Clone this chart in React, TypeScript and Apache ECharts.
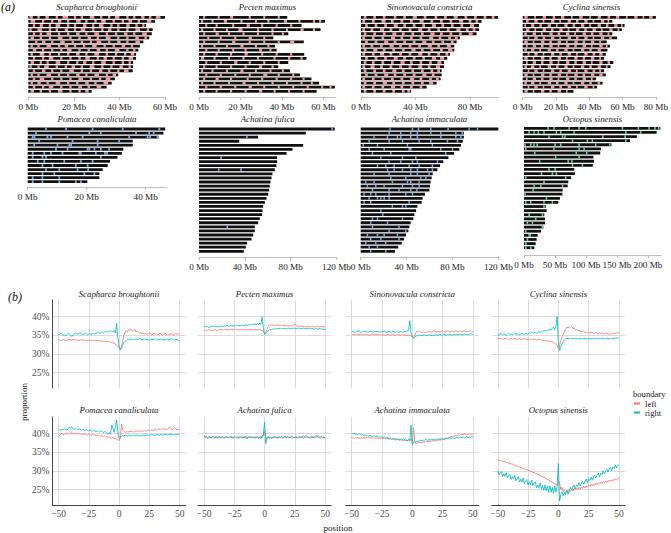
import React, { useEffect, useRef } from 'react';
import * as echarts from 'echarts';

// ================= (a) chromosome data (Mb) =================
const scaphLen = [60, 55.6, 51.7, 54.6, 54.2, 53.1, 50.5, 49, 48.3, 47.3, 47.3, 46, 46, 45.8, 39.5, 38, 36.6, 34.4, 27.8];
const pectenLen = [42.6, 60.8, 49.5, 58.7, 43.1, 35.9, 50.6, 36.7, 37.5, 50.8, 51.9, 43.1, 38.3, 43.9, 48.7, 54.3, 58, 65.6, 56.8];
const sinoLen = [100.7, 88.5, 86.6, 86.6, 84.8, 72.6, 70.2, 68.5, 68.5, 65.3, 63.3, 60.9, 60.9, 59.2, 59.2, 58.4, 55.5, 48.2, 36.7];
const cyclinaLen = [80, 53.8, 61.2, 59.6, 53.8, 56.7, 50.5, 52.4, 50.9, 49.9, 48.9, 54.4, 52.8, 48.9, 49.9, 44.1, 48, 44.7, 30.5];
const pomaceaLen = [46.6, 46, 44.3, 35.6, 35.6, 32.4, 31.9, 30.4, 27.9, 27.1, 25.4, 24.3, 24.3, 20.2];
const fulicaLen = [118.5, 93.2, 51.6, 35.1, 90.9, 81.6, 76.4, 68.2, 68.2, 67.6, 66.2, 64.1, 63.3, 62.4, 61.8, 61.2, 60.4, 58.9, 57.5, 56, 55.4, 55.1, 53.1, 51.6, 48.7, 48.7, 47.3, 45.8, 42, 40.9, 39.1];
const immacLen = [120, 90, 90, 89, 87.5, 86, 81.4, 76.5, 72, 69.2, 66.9, 62.8, 61.9, 61, 60.5, 59.9, 56.1, 54, 53.2, 49.4, 48.3, 46.8, 45.9, 43.6, 42.4, 41.6, 39.5, 37.8, 35.8, 32.8, 29.9];
const octoLen = [220, 214, 182, 171, 141, 124, 123, 112, 113, 111, 81, 82, 76, 71.5, 70.4, 62.4, 62.4, 58, 55.4, 35, 36.6, 32.8, 33.9, 33.9, 31.2, 27.4, 22, 20.4, 18.8, 16.7];

// highlighted intervals [start, end, start, end, ...] per chromosome (Mb)
const scaphSeg = [
  [0.5,2, 4,5, 7.5,9, 12,13, 15,17.5, 20,21, 23,24, 27,29, 31.5,32.5, 35,36, 38,40, 43,44, 46,47, 49.5,51, 53,54, 56,58],
  [1,3, 6,7, 10,11, 13,14.5, 17,18, 21,23, 25,26, 29,30, 32,34, 37,38, 41,42, 44,45.5, 48,49, 52,54],
  [2,3, 5,6.5, 9,10, 12,14, 17,18, 20,21, 24,25.5, 28,29, 31,33, 36,37, 39,40, 43,44.5, 47,48, 50,51],
  [0.5,1.5, 4,6, 9,10, 12,13, 16,17.5, 20,21, 23,25, 28,29, 32,33, 35,36.5, 39,40, 43,44, 47,49, 52,53],
  [2,3, 5,6, 8,10, 13,14, 17,18, 21,22.5, 25,26, 29,31, 34,35, 38,39, 42,43.5, 46,47, 50,52],
  [1,2.5, 5,6, 9,10, 13,15, 18,19, 22,23, 26,27.5, 30,31, 34,36, 39,40, 43,44, 47,48.5, 51,52],
  [3,4, 6,7.5, 10,11, 14,16, 19,20, 23,24, 27,28, 30,32, 35,36, 39,40.5, 43,44, 47,49],
  [1,2, 4,5, 8,10, 13,14, 16,17.5, 20,21, 24,25, 28,30, 33,34, 37,38, 41,42.5, 45,46],
  [2,3.5, 6,7, 10,11, 14,15, 17,19, 22,23, 26,27, 30,31.5, 34,35, 38,40, 43,44, 46,47],
  [1,2, 5,7, 9,10, 13,14, 17,18, 21,22.5, 25,26, 29,31, 34,35, 38,39, 42,43, 45,46.5],
  [2,3, 6,7, 9,11, 14,15, 18,19, 22,23, 25,27, 30,31, 33,34.5, 37,38, 41,42, 44,46],
  [1,2.5, 5,6, 8,9, 12,14, 17,18, 21,22, 24,25.5, 28,29, 32,34, 37,38, 41,42, 44,45],
  [0.5,1.5, 4,5, 7,9, 12,13, 16,17, 19,20.5, 23,24, 27,29, 32,33, 36,37, 40,41.5, 44,45],
  [2,3, 6,7.5, 10,11, 14,15, 18,20, 23,24, 27,28, 31,32.5, 35,36, 39,40, 42,44],
  [1,2, 4,5, 8,10, 13,14, 17,18, 21,22.5, 25,26, 29,31, 34,35, 37,38.5],
  [2,3, 5,7, 10,11, 14,15, 18,19, 22,24, 27,28, 31,32, 34,36],
  [1,2, 4,5.5, 8,9, 12,14, 17,18, 21,22, 25,26.5, 29,30, 33,35],
  [2,3, 6,7, 9,11, 14,15, 18,19, 22,23.5, 26,27, 30,32],
  [1,2.5, 5,6, 9,10, 13,15, 18,19, 22,23, 25,26.5],
];
const pectenSeg = [
  [2,3, 9,10, 15,16.5, 24,25, 31,32, 38,39],
  [1,2, 6,7, 12,13.5, 20,21, 27,28, 33,34, 41,42.5, 48,49, 55,56, 58,59],
  [3,4, 8,9, 16,17, 23,24.5, 30,31, 37,38, 44,45],
  [1,2, 7,8, 13,14, 19,21, 28,29, 35,36, 42,43, 49,50.5, 55,56],
  [2,3, 8,9.5, 14,15, 21,22, 28,29, 35,36, 40,41],
  [4,5, 10,11, 17,18, 24,25.5, 31,32],
  [2,3, 9,10, 16,17.5, 24,25, 31,32, 38,39, 44,46],
  [1,2, 7,8, 13,14, 20,21.5, 27,28, 33,34],
  [3,4, 9,10, 16,17, 22,23, 29,30.5, 34,35],
  [2,3, 8,9, 15,16, 22,23.5, 30,31, 37,38, 44,45],
  [1,2.5, 7,8, 14,15, 21,22, 28,29, 36,37, 43,44, 49,50],
  [3,4, 10,11, 17,18.5, 24,25, 31,32, 38,39],
  [2,3, 8,9, 15,16, 22,23, 29,30.5, 35,36],
  [1,2, 6,7, 13,14, 20,21.5, 27,28, 34,35, 40,41],
  [3,4, 10,11, 17,18, 24,25, 31,33, 38,39, 45,46],
  [2,3, 8,9.5, 15,16, 23,24, 30,31, 37,38, 44,45, 50,51],
  [1,2, 7,8, 14,15, 21,22.5, 28,29, 35,36, 42,43, 49,50, 54,55],
  [3,4, 10,11, 17,18, 24,25.5, 31,32, 38,39, 45,46, 52,53, 59,60, 63,64],
  [2,3, 8,9, 15,16, 22,23, 29,30.5, 36,37, 43,44, 50,51],
];
const sinoSeg = [
  [2,4, 9,11, 16,18, 24,26, 31,33, 38,41, 46,48, 54,56, 61,63, 68,71, 76,78, 83,85, 90,92, 96,98],
  [1,3, 8,10, 15,18, 22,24, 29,31, 36,38, 43,46, 51,53, 58,60, 65,67, 72,75, 79,81, 84,86],
  [3,5, 10,12, 17,19, 24,27, 31,33, 38,40, 45,47, 52,55, 59,61, 66,68, 73,75, 80,83],
  [1,3, 7,9, 14,17, 21,23, 28,30, 35,37, 42,45, 49,51, 56,58, 63,65, 70,73, 77,79, 82,84],
  [2,4, 9,11, 16,18, 23,26, 30,32, 37,39, 44,46, 51,54, 58,60, 65,67, 72,74, 79,82],
  [1,3, 8,10, 15,17, 22,25, 29,31, 36,38, 43,45, 50,53, 57,59, 64,66, 69,71],
  [3,5, 10,12, 17,20, 24,26, 31,33, 38,40, 45,48, 52,54, 59,61, 66,68],
  [1,3, 7,9, 14,16, 21,24, 28,30, 35,37, 42,44, 49,52, 56,58, 63,66],
  [2,4, 9,12, 16,18, 23,25, 30,32, 37,40, 44,46, 51,53, 58,60, 64,67],
  [1,3, 8,10, 14,17, 21,23, 28,30, 35,37, 42,45, 49,51, 56,58, 62,64],
  [3,5, 10,12, 17,19, 24,27, 31,33, 38,40, 45,47, 52,55, 58,61],
  [2,4, 8,10, 15,17, 22,24, 29,32, 36,38, 43,45, 50,52, 56,59],
  [1,3, 7,10, 14,16, 21,23, 28,30, 35,37, 42,45, 49,51, 55,58],
  [2,4, 9,11, 16,18, 23,26, 30,32, 37,39, 44,46, 51,53, 56,58],
  [3,5, 10,12, 17,20, 24,26, 31,33, 38,40, 45,48, 52,54],
  [1,3, 8,10, 15,17, 22,24, 29,31, 36,39, 43,45, 50,52, 55,57],
  [2,4, 9,11, 16,19, 23,25, 30,32, 37,39, 44,46, 50,53],
  [1,3, 8,10, 15,17, 22,25, 29,31, 36,38, 43,45],
  [2,4, 9,11, 16,18, 23,25, 30,32, 34,36],
];
const cyclinaSeg = [
  [1,3, 7,8, 12,14, 18,19.5, 23,25, 29,30, 34,36, 40,41, 45,47, 51,52.5, 56,58, 62,63, 67,69, 72,73, 76,78],
  [2,3.5, 7,9, 12,13, 17,19, 22,23, 27,29, 32,33.5, 37,39, 42,43, 47,49, 51,52],
  [1,2, 5,7, 10,11.5, 15,17, 20,21, 25,27, 30,31.5, 35,37, 40,41, 45,47, 50,51.5, 55,57, 59,60],
  [2,4, 7,8, 12,14, 17,18.5, 22,24, 27,28, 32,34, 37,38.5, 42,44, 47,48, 52,54, 57,58],
  [1,2.5, 6,8, 11,12, 16,18, 21,22.5, 26,28, 31,32, 36,38, 41,42.5, 46,48, 51,52],
  [3,4, 7,9, 12,13.5, 17,19, 22,23, 27,29, 32,33.5, 37,39, 42,43, 47,49, 52,53.5],
  [1,3, 6,7, 11,13, 16,17.5, 21,23, 26,27, 31,33, 36,37.5, 41,43, 46,47],
  [2,3, 6,8, 11,12.5, 16,18, 21,22, 26,28, 31,32.5, 36,38, 41,42, 46,48, 50,51],
  [1,2.5, 5,7, 10,11, 15,17, 20,21.5, 25,27, 30,31, 35,37, 40,41.5, 45,47],
  [3,4, 7,9, 12,13, 17,19, 22,23.5, 27,29, 32,33, 37,39, 42,43.5, 46,48],
  [1,3, 6,7, 11,13, 16,17.5, 21,23, 26,27, 31,33, 36,37.5, 41,43, 46,47],
  [2,3, 6,8, 11,12.5, 16,18, 21,22, 26,28, 31,32.5, 36,38, 41,42, 46,48, 51,52.5],
  [1,2.5, 5,7, 10,11, 15,17, 20,21.5, 25,27, 30,31, 35,37, 40,41.5, 45,47, 50,51],
  [3,4, 7,9, 12,13, 17,19, 22,23.5, 27,29, 32,33, 37,39, 42,43.5, 46,47],
  [1,3, 6,7, 11,13, 16,17.5, 21,23, 26,27, 31,33, 36,37.5, 41,43, 46,48],
  [2,3, 6,8, 11,12.5, 16,18, 21,22, 26,28, 31,32.5, 36,38, 41,42],
  [1,2.5, 5,7, 10,11, 15,17, 20,21.5, 25,27, 30,31, 35,37, 40,41.5, 45,46.5],
  [3,4, 7,9, 12,13, 17,19, 22,23.5, 27,29, 32,33, 37,39, 42,43],
  [1,3, 6,7, 11,13, 16,17.5, 21,23, 26,27],
];

// single-site marks (start positions, Mb) per chromosome
const pomaceaMarks = [
  [5.9, 12.7, 21.7, 31.9, 44.3],
  [2.5, 20.6, 24.5, 36.4, 40.9, 42.4],
  [1.4, 2, 6.4, 7.6, 13.2, 18.3, 34.1, 40.3, 41.2, 43.7],
  [3.6, 14.9, 23.4, 30.7],
  [1.9, 9.8, 13.8, 14.4, 23.4],
  [9.3, 13.2, 20, 20.6, 22.3, 24.5, 27.3],
  [1.4, 5.3, 7.6, 11.5, 17.2, 17.7, 22.8, 25.9, 26.6],
  [1.4, 4.7, 5.9, 24.5],
  [3.1, 5.3, 12.1, 17.7, 21.7],
  [4.7, 8.1, 16, 20],
  [5.9, 10.4, 16.6, 20.2],
  [4.7, 8.7, 18.9, 22.3],
  [1.4, 4.7, 10.4],
  [1.4, 4.7, 10.4, 16, 17.7],
];
const fulicaMarks = [
  [115.5], [], [41.2], [], [], [], [], [18.5], [], [], [16.5, 36], [], [], [], [], [],
  [], [], [], [], [], [], [], [], [24], [], [], [], [], [], [],
];
const immacMarks = [
  [25, 44.5, 49.7, 60.5, 75.6, 93.9, 101.2],
  [24.1, 34.3, 43, 48.8, 60.5, 69.2, 82.3, 88],
  [11, 22.7, 31.4, 34.3, 43, 48.8, 69.2, 82.3, 86.6],
  [6.7, 24.1, 35.8, 50.3, 60.5, 75, 83.7],
  [1.5, 14, 40.1, 61.9],
  [6.7, 19.8, 41.6, 43, 69.2, 79.4],
  [9.6, 25.6, 73.5],
  [16.9, 35.8, 47.4],
  [24.1, 34.3, 44.5, 48.8, 66.3],
  [14, 21.2, 28.5, 41.6, 50.3, 61.9],
  [22.7, 28.5, 35.8, 43, 48.8, 57.6, 61.9],
  [11, 24.1, 43, 48.8, 59],
  [25.6, 38.7, 51.7, 56.1],
  [3.8, 11, 27, 40.1, 43, 50.3],
  [5.2, 12.5, 19.8, 35.8, 44.5, 50.3],
  [9.6, 24.1, 32.8, 43, 48.3],
  [2.3, 8.1, 12.5, 24.1, 38.7, 44.5],
  [6.7, 14, 16.9, 19.8, 24.1],
  [2.3, 8.1, 41.6],
  [27, 35.8, 38.7],
  [16.9],
  [18.6],
  [9.6, 14, 35.8],
  [8.1, 22.7],
  [9.6, 32.8],
  [24.1, 38.7],
  [5.2, 14, 19.8, 31.4],
  [8.1, 16.9, 32.8],
  [3.8, 12.5, 21.2],
  [6.7, 14],
  [8.1, 21.2],
];
const octoMarks = [
  [37.6, 47.3, 71.5, 87.6, 98.4, 157.5, 183.3, 200.5, 210, 216],
  [7, 15, 22, 31, 51, 58, 79.6, 163, 187],
  [39, 61, 65, 126, 162],
  [77, 101, 109, 163],
  [0.5, 9.7, 15, 20, 49, 58, 87.6, 114.5, 137],
  [1.6, 47, 87.6, 95.7],
  [16, 83, 100],
  [50, 87.6],
  [24, 70, 76],
  [77, 93],
  [39, 49],
  [27, 44.6, 51],
  [1.6, 66],
  [31],
  [15, 26, 61],
  [13.4],
  [0.5, 61],
  [35],
  [1.6, 9.7, 31, 44.6],
  [31],
  [],
  [7, 28.5],
  [17.7],
  [4.3, 12.4],
  [28.5],
  [1.6],
  [7, 9],
  [4.3],
  [1.6],
  [1.6, 9.7],
];
const pomaceaMarkLen = 0.6;
const fulicaMarkLen = 1.4;
const immacMarkLen = 1.3;
const octoMarkLen = 2.5;

// ================= (b) boundary proportions (%) =================
const aTicks = { scaph: [0, 20, 40, 60], pecten: [0, 20, 40, 60], sino: [0, 40, 80], cyclina: [0, 20, 40, 60, 80], pomacea: [0, 20, 40], fulica: [0, 40, 80, 120], immac: [0, 40, 80, 120], octo: [0, 50, 100, 150, 200] };
const posTicks = [-50, -25, 0, 25, 50];
const propTicks = [25, 30, 35, 40];

const scaphLeft = [
  33.8,33.7,33.6,33.7,33.8,33.7,33.6,33.7,33.8,33.9,
  33.8,33.7,33.8,33.9,33.8,33.7,33.7,33.6,33.7,33.8,
  33.7,33.6,33.7,33.6,33.5,33.6,33.7,33.6,33.5,33.6,
  33.6,33.5,33.6,33.5,33.4,33.5,33.5,33.4,33.3,33.4,
  33.3,33.2,33.3,33.1,33.0,33.0,32.8,32.6,32.4,32.0,
  31.6,31.3,31.9,33.4,35.0,35.8,36.2,36.0,36.5,36.3,
  36.6,36.1,36.4,36.6,35.9,36.2,35.8,35.5,35.7,35.4,
  35.6,35.3,35.5,35.2,35.4,35.7,35.3,35.1,35.4,35.6,
  35.2,35.4,35.1,35.3,35.5,35.2,35.0,35.3,35.6,35.2,
  35.3,35.1,35.4,35.2,35.5,35.0,35.3,35.6,35.2,35.4,
  35.2];
const scaphRight = [
  35.1,35.3,35.6,35.2,35.0,35.1,34.9,35.2,35.5,35.3,
  35.0,34.7,34.9,35.3,35.6,35.4,35.2,35.5,35.7,35.4,
  35.2,35.3,35.6,35.4,35.1,35.3,35.5,35.2,35.4,35.6,
  35.3,35.5,35.8,35.6,35.4,35.7,35.9,35.6,35.8,36.0,
  35.8,36.1,35.9,36.2,36.0,35.9,36.3,35.6,38.2,34.5,
  32.2,31.0,31.4,32.3,33.0,33.4,33.6,33.9,33.8,34.0,
  33.9,34.0,33.8,33.9,34.0,33.8,33.9,34.1,33.9,33.8,
  33.9,34.0,33.8,33.9,33.7,33.8,34.0,33.9,33.8,33.9,
  34.0,33.8,33.7,33.9,34.0,33.8,33.9,33.7,33.8,33.9,
  34.0,33.8,33.9,34.1,33.9,33.8,33.7,33.9,33.8,33.6,
  33.5];
const pectenLeft = [
  36.3,36.4,36.2,36.3,36.5,36.4,36.3,36.2,36.4,36.5,
  36.4,36.3,36.5,36.4,36.6,36.5,36.4,36.5,36.6,36.5,
  36.4,36.5,36.6,36.5,36.4,36.6,36.5,36.6,36.5,36.4,
  36.5,36.6,36.5,36.4,36.6,36.5,36.4,36.5,36.6,36.5,
  36.4,36.5,36.6,36.5,36.4,36.5,36.6,36.4,36.3,36.0,
  35.5,35.7,36.6,37.5,37.8,37.7,37.6,37.8,37.7,37.6,
  37.7,37.8,37.6,37.7,37.5,37.6,37.7,37.5,37.6,37.4,
  37.5,37.6,37.4,37.5,37.7,38.0,37.6,37.4,37.5,37.3,
  37.4,37.5,37.3,37.4,37.2,37.3,37.5,37.3,37.2,37.4,
  37.3,37.2,37.4,37.3,37.5,37.2,37.3,37.4,37.2,37.3,
  37.4];
const pectenRight = [
  37.3,37.2,37.4,37.3,37.1,37.2,37.4,37.3,37.5,37.4,
  37.3,37.4,37.2,37.3,37.5,37.4,37.3,37.5,37.4,37.6,
  37.5,37.4,37.6,37.5,37.4,37.6,37.5,37.7,37.6,37.5,
  37.6,37.7,37.5,37.6,37.8,37.7,37.6,37.8,37.7,37.9,
  37.8,37.9,38.0,37.8,38.1,37.9,38.2,38.0,39.9,36.8,
  35.2,35.4,35.9,36.2,36.4,36.5,36.6,36.7,36.6,36.8,
  36.7,36.8,36.7,36.9,36.8,36.7,36.9,36.8,36.7,36.8,
  36.9,36.8,36.7,36.8,36.9,36.8,36.7,36.8,36.9,36.7,
  36.8,36.7,36.9,36.8,36.7,36.8,36.9,36.7,36.8,36.7,
  36.8,36.6,36.7,36.8,36.6,36.7,36.8,36.6,36.7,36.6,
  36.5];
const sinoLeft = [
  35.3,35.2,35.1,35.2,35.3,35.2,35.1,35.2,35.3,35.2,
  35.1,35.2,35.3,35.2,35.1,35.0,35.2,35.3,35.2,35.1,
  35.2,35.1,35.2,35.3,35.2,35.1,35.2,35.1,35.0,35.1,
  35.2,35.1,35.0,35.1,35.2,35.1,35.0,35.1,35.2,35.1,
  35.0,35.1,35.2,35.0,35.1,35.0,34.9,35.1,35.0,34.8,
  34.6,34.3,34.9,35.8,36.1,35.9,36.0,35.8,35.7,35.9,
  35.8,35.7,35.9,35.8,36.0,35.9,35.8,36.1,36.2,36.0,
  35.9,36.1,36.0,35.8,36.0,36.2,36.1,35.9,36.0,36.1,
  36.0,35.8,36.0,36.1,35.9,36.0,36.2,36.0,35.9,36.1,
  36.0,35.9,36.1,36.2,36.0,35.9,36.1,36.0,36.2,36.0,
  35.9];
const sinoRight = [
  35.9,36.0,35.8,35.9,36.1,36.0,36.2,35.9,35.8,36.0,
  36.1,35.9,36.0,35.8,35.9,36.1,36.0,35.9,35.8,36.0,
  35.9,36.1,36.0,35.8,35.9,36.0,35.9,36.1,35.9,35.8,
  35.9,36.0,35.8,35.9,36.0,35.9,35.8,36.0,35.9,35.8,
  35.9,36.0,35.8,35.9,36.0,35.9,36.1,36.2,38.9,35.6,
  34.6,34.2,34.5,34.8,34.9,35.0,35.1,34.9,35.0,35.0,
  35.1,35.0,34.9,35.0,35.1,35.0,34.9,35.0,35.1,35.0,
  35.1,35.0,35.1,35.2,35.0,35.1,35.2,35.1,35.0,35.2,
  35.1,35.2,35.1,35.0,35.2,35.1,35.2,35.3,35.1,35.2,
  35.3,35.2,35.1,35.3,35.2,35.3,35.2,35.3,35.4,35.3,
  35.2];
const cyclinaLeft = [
  34.1,34.0,34.2,34.1,33.9,34.0,34.1,34.2,34.0,33.9,
  34.0,34.1,34.0,33.9,34.1,34.0,33.8,34.0,34.1,33.9,
  34.0,33.9,34.1,34.0,33.8,33.9,34.0,33.8,33.9,34.0,
  33.8,33.9,33.7,33.8,33.9,33.7,33.8,33.6,33.7,33.5,
  33.6,33.4,33.5,33.3,33.4,33.2,33.0,32.8,32.6,32.3,
  31.5,32.2,33.5,34.6,35.3,36.0,36.6,37.2,36.9,37.4,
  37.1,37.3,36.8,37.0,36.5,36.6,36.2,36.4,36.0,36.1,
  35.9,36.0,35.7,35.8,35.6,35.9,35.5,35.7,35.8,35.4,
  35.6,35.8,35.5,35.3,35.6,35.4,35.7,35.5,35.3,35.6,
  35.4,35.5,35.2,35.4,35.6,35.3,35.5,35.4,35.7,35.5,
  35.8];
const cyclinaRight = [
  35.2,35.0,35.4,35.3,35.1,35.4,35.2,35.0,35.3,35.5,
  35.2,35.4,35.1,35.3,35.6,35.2,35.4,35.3,35.1,35.4,
  35.5,35.3,35.2,35.6,35.4,35.3,35.7,35.5,35.8,35.6,
  35.7,35.9,35.6,35.8,36.0,35.8,36.1,35.9,36.2,36.3,
  36.1,36.4,36.2,36.6,36.4,36.9,37.2,36.5,37.3,40.0,
  33.5,30.9,31.8,32.6,33.3,33.8,34.0,34.2,34.1,34.0,
  34.1,34.2,34.0,34.1,34.2,34.1,34.0,34.1,34.2,34.1,
  34.0,34.1,34.2,34.0,34.1,34.2,34.1,34.0,34.1,34.2,
  34.1,34.0,34.2,34.1,34.0,34.1,34.2,34.1,34.0,34.1,
  34.2,34.1,34.0,34.1,34.2,34.0,34.1,34.2,34.3,34.2,
  34.3];
const pomaceaLeft = [
  39.8,39.5,39.9,40.1,39.7,40.0,39.8,40.2,40.0,39.8,
  40.1,40.3,39.9,40.2,40.0,39.8,40.1,39.9,40.0,39.7,
  39.9,39.7,40.0,39.8,39.6,39.9,39.7,39.5,39.8,39.6,
  39.7,39.5,39.6,39.4,39.6,39.3,39.5,39.2,39.4,39.1,
  39.2,39.0,39.1,38.9,38.8,39.0,38.7,38.6,38.5,38.3,
  38.2,38.6,42.5,41.0,40.6,40.3,40.5,40.7,40.4,40.6,
  40.5,40.7,40.4,40.6,40.8,40.5,40.7,40.6,40.8,40.5,
  40.7,40.9,40.6,40.8,41.0,40.7,40.9,41.1,40.8,41.0,
  41.2,40.9,41.1,41.3,41.0,41.2,41.4,41.1,41.3,41.0,
  41.2,41.5,41.8,41.3,41.1,41.4,41.6,41.2,40.9,41.3,
  40.9];
const pomaceaRight = [
  40.9,41.1,40.8,41.2,41.0,41.3,41.1,40.9,41.4,41.7,
  41.5,41.8,41.3,41.1,41.4,41.2,41.0,41.3,41.1,40.9,
  41.2,41.0,40.8,41.1,40.9,40.7,41.0,40.8,40.6,40.9,
  40.7,40.5,40.8,40.6,40.4,40.7,40.5,40.3,40.6,40.4,
  40.1,39.8,40.2,39.9,42.3,41.5,40.3,41.8,43.6,40.6,
  38.7,38.9,39.3,39.5,39.4,39.6,39.5,39.4,39.6,39.5,
  39.4,39.6,39.5,39.3,39.5,39.6,39.4,39.5,39.3,39.5,
  39.6,39.4,39.5,39.7,39.5,39.6,39.8,39.6,39.7,39.5,
  39.6,39.8,39.7,39.5,39.7,39.8,39.6,39.7,39.9,39.8,
  39.6,39.8,39.7,39.9,39.8,39.6,39.8,39.9,39.7,39.8,
  39.6];
const fulicaLeft = [
  39.2,38.9,39.1,38.8,39.0,39.3,38.9,39.1,38.7,39.0,
  39.2,38.8,39.0,39.3,38.9,39.1,38.8,39.0,39.2,38.9,
  39.1,38.8,39.0,39.2,38.7,39.0,39.1,38.9,39.2,38.8,
  39.0,39.3,38.8,39.1,38.9,39.2,38.7,39.0,39.3,38.9,
  39.1,38.8,39.2,38.9,39.0,38.7,39.1,39.3,38.8,39.4,
  40.6,39.2,38.6,39.0,38.8,39.1,38.7,39.0,39.2,38.8,
  39.0,38.7,39.1,38.9,39.2,38.8,39.0,39.3,38.9,39.1,
  38.8,39.2,39.0,38.7,39.1,38.9,39.2,38.8,39.0,39.3,
  38.9,39.1,39.4,39.0,39.6,39.2,38.9,39.1,38.8,39.0,
  39.2,38.9,39.1,39.4,39.0,38.8,39.1,39.3,38.9,39.1,
  38.9];
const fulicaRight = [
  39.4,39.1,39.3,38.9,39.2,39.0,38.8,39.1,39.3,38.9,
  39.1,38.8,39.2,39.0,38.9,39.3,39.0,38.8,39.1,39.2,
  38.9,39.1,39.3,38.8,39.0,39.2,38.9,39.1,38.7,39.0,
  39.2,38.8,39.1,38.9,39.3,38.6,39.0,39.2,38.8,39.1,
  38.9,39.2,38.7,39.0,39.3,38.8,39.1,38.6,39.4,39.6,
  43.1,37.3,38.9,39.2,38.8,39.0,38.7,39.1,38.9,39.2,
  38.8,39.0,39.2,38.9,39.1,38.8,39.0,39.3,38.9,39.1,
  39.0,38.8,39.1,39.3,38.9,39.0,39.2,38.8,39.1,38.9,
  39.2,39.0,38.8,39.1,38.9,39.2,39.0,38.9,39.1,39.3,
  38.9,39.1,39.3,39.0,39.5,39.2,38.9,39.1,38.8,39.0,
  38.8];
const immacLeft = [
  38.8,38.9,38.7,38.8,39.0,38.9,38.8,38.7,38.9,38.8,
  38.9,38.8,38.9,39.0,38.8,38.9,38.7,38.8,38.9,38.7,
  38.8,38.9,38.7,38.8,38.6,38.8,38.7,38.6,38.7,38.6,
  38.7,38.5,38.6,38.4,38.6,38.5,38.3,38.5,38.4,38.3,
  38.4,38.2,38.3,38.1,38.3,38.2,38.0,38.2,38.1,38.6,
  37.8,41.6,38.2,37.3,37.5,37.6,37.5,37.7,37.6,37.8,
  37.7,37.8,37.9,37.8,38.0,37.9,38.0,38.1,38.0,38.1,
  38.1,38.2,38.3,38.2,38.4,38.5,38.4,38.6,38.7,38.8,
  38.9,39.0,39.2,39.1,39.3,39.4,39.5,39.6,39.7,39.6,
  39.8,39.7,39.8,39.9,39.8,39.7,39.9,39.8,39.7,39.8,
  39.8];
const immacRight = [
  40.1,39.9,40.2,39.8,39.9,39.7,40.0,39.8,39.6,39.7,
  39.5,39.7,39.4,39.6,39.3,39.5,39.4,39.2,39.4,39.3,
  39.2,39.4,39.1,39.3,39.0,39.2,38.9,39.1,38.8,39.0,
  38.8,38.6,38.9,38.5,38.7,38.4,38.8,38.3,38.6,38.5,
  38.2,38.6,38.3,38.7,38.1,38.4,38.0,38.6,38.2,42.3,
  36.9,37.8,37.6,37.9,38.0,37.9,38.1,38.2,38.0,38.3,
  38.2,38.4,38.3,38.2,38.4,38.3,38.5,38.4,38.3,38.5,
  38.4,38.6,38.5,38.4,38.6,38.7,38.5,38.6,38.8,38.7,
  38.6,38.8,38.7,38.9,38.8,38.7,38.9,39.0,38.8,38.9,
  39.0,38.9,39.1,38.8,39.0,39.2,38.9,39.1,39.0,39.2,
  39.1];
const octoLeft = [
  33.0,32.8,32.9,32.6,32.7,32.4,32.5,32.2,32.3,32.0,
  32.1,31.8,31.9,31.5,31.6,31.2,31.4,31.0,31.1,30.8,
  30.9,30.5,30.6,30.3,30.4,30.0,30.2,29.8,29.9,29.5,
  29.6,29.2,29.3,28.9,29.0,28.6,28.7,28.3,28.4,28.0,
  28.0,27.6,27.7,27.2,27.3,26.8,26.9,26.4,26.5,26.0,
  27.4,26.8,25.0,25.6,24.4,24.9,24.2,24.8,24.3,25.0,
  24.5,25.1,24.6,25.3,24.8,25.4,24.9,25.6,25.1,25.7,
  25.3,25.9,25.4,26.0,25.6,26.2,25.8,26.4,26.0,26.5,
  26.1,26.7,26.3,26.8,26.5,27.0,26.6,27.1,26.8,27.3,
  26.9,27.4,27.1,27.6,27.2,27.7,27.4,27.9,27.5,28.0,
  27.9];
const octoRight = [
  30.0,28.9,29.3,29.8,28.4,29.2,28.5,29.5,28.1,28.7,
  29.1,27.7,28.4,27.8,28.8,27.4,27.9,28.4,27.0,27.8,
  27.0,28.1,26.6,27.3,27.7,26.2,27.1,26.3,27.5,26.0,
  26.7,27.1,25.5,26.2,25.5,26.8,25.2,26.1,24.8,26.2,
  24.7,25.8,24.3,26.0,24.2,25.6,24.0,26.0,24.3,25.8,
  32.0,21.9,23.6,24.4,23.3,24.2,23.6,24.8,23.8,24.5,
  25.6,24.9,25.6,26.2,25.2,26.2,25.8,26.8,26.0,26.7,
  27.2,26.4,27.2,27.8,26.9,27.9,27.4,28.4,27.5,28.4,
  28.8,28.1,28.9,29.4,28.4,29.4,29.0,30.0,29.2,29.9,
  30.4,29.7,30.5,31.0,30.0,31.0,30.6,31.6,30.8,31.5,
  31.6];

// ================= styles & layout =================
const SERIF = '"Liberation Serif", "DejaVu Serif", serif';
const BLACK = '#111111';
const PINK = '#f39e9e';
const BLUE = '#7ea8ec';
const GREEN = '#68d291';
const RED = '#F8766D';
const CYAN = '#00BFC4';
const GRID_C = '#dcdcdc';
const BAR_H = 2.8;

type APanel = {
  title: string; lens: number[]; pairs?: number[][]; marks?: number[][]; markLen?: number;
  color: string; ticks: number[]; left: number; width: number; max: number; y0: number; y1: number; axisY: number;
};

const aPanels: APanel[] = [
  { title: 'Scapharca broughtonii', lens: scaphLen, pairs: scaphSeg, color: PINK, ticks: aTicks.scaph, left: 28.3, width: 136.7, max: 60, y0: 17.3, y1: 91.3, axisY: 97 },
  { title: 'Pecten maximus', lens: pectenLen, pairs: pectenSeg, color: PINK, ticks: aTicks.pecten, left: 199, width: 136.7, max: 66, y0: 17.3, y1: 91.3, axisY: 97 },
  { title: 'Sinonovacula constricta', lens: sinoLen, pairs: sinoSeg, color: PINK, ticks: aTicks.sino, left: 361, width: 137.6, max: 101, y0: 17.3, y1: 91.3, axisY: 97 },
  { title: 'Cyclina sinensis', lens: cyclinaLen, pairs: cyclinaSeg, color: PINK, ticks: aTicks.cyclina, left: 522.7, width: 137.3, max: 80, y0: 17.3, y1: 91.3, axisY: 97 },
  { title: 'Pomacea canaliculata', lens: pomaceaLen, marks: pomaceaMarks, markLen: pomaceaMarkLen, color: BLUE, ticks: aTicks.pomacea, left: 27.7, width: 138.7, max: 47, y0: 129, y1: 181.7, axisY: 187 },
  { title: 'Achatina fulica', lens: fulicaLen, marks: fulicaMarks, markLen: fulicaMarkLen, color: BLUE, ticks: aTicks.fulica, left: 199, width: 137.5, max: 120, y0: 129, y1: 251.3, axisY: 257 },
  { title: 'Achatina immaculata', lens: immacLen, marks: immacMarks, markLen: immacMarkLen, color: BLUE, ticks: aTicks.immac, left: 360.7, width: 137.6, max: 120, y0: 129, y1: 251.3, axisY: 257 },
  { title: 'Octopus sinensis', lens: octoLen, marks: octoMarks, markLen: octoMarkLen, color: GREEN, ticks: aTicks.octo, left: 524, width: 137, max: 221, y0: 128.3, y1: 247.7, axisY: 255 },
];
const aTitleY = [7, 119];

const bTitles = ['Scapharca broughtonii', 'Pecten maximus', 'Sinonovacula constricta', 'Cyclina sinensis', 'Pomacea canaliculata', 'Achatina fulica', 'Achatina immaculata', 'Octopus sinensis'];
const bLeftSeries = [scaphLeft, pectenLeft, sinoLeft, cyclinaLeft, pomaceaLeft, fulicaLeft, immacLeft, octoLeft];
const bRightSeries = [scaphRight, pectenRight, sinoRight, cyclinaRight, pomaceaRight, fulicaRight, immacRight, octoRight];
const bColLeft = [52.4, 197.9, 345.6, 491.7];
const bWidth = 133.3;
const bRowTop = [300, 417];
const bHeight = 88;
const bTitleY = [294, 410];
const positions = bLeftSeries[0].map((_, i) => i - 50);

function rectItem(color: string) {
  return (params: any, api: any) => {
    const c = api.value(0);
    const s = api.value(1);
    const e = api.value(2);
    const a = api.coord([s, c]);
    const b = api.coord([e, c]);
    return {
      type: 'rect',
      shape: { x: a[0], y: a[1] - BAR_H / 2, width: Math.max(b[0] - a[0], 0.9), height: BAR_H },
      style: { fill: color },
    };
  };
}

function buildOption() {
  const grid: any[] = [];
  const xAxis: any[] = [];
  const yAxis: any[] = [];
  const series: any[] = [];
  const graphic: any[] = [];

  // ---------- (a) ----------
  aPanels.forEach((p, k) => {
    const n = p.lens.length;
    const pitch = (p.y1 - p.y0) / (n - 1);
    const top = p.y0 - pitch;
    grid.push({ left: p.left, top, width: p.width, height: p.axisY - top });
    xAxis.push({
      gridIndex: k, type: 'value', min: 0, max: p.max,
      axisLine: { show: true, onZero: false, lineStyle: { color: '#bdbdbd', width: 1 } },
      axisTick: { show: true, length: 3, customValues: p.ticks, lineStyle: { color: '#bdbdbd' } },
      axisLabel: { customValues: p.ticks, formatter: (v: number) => `${v} Mb`, fontSize: 9.2, fontFamily: SERIF, color: '#222', margin: 5 },
      splitLine: { show: false },
    });
    yAxis.push({ gridIndex: k, type: 'value', inverse: true, min: -1, max: n - 1 + (p.axisY - p.y1) / pitch, show: false });
    series.push({
      type: 'custom', xAxisIndex: k, yAxisIndex: k, silent: true,
      data: p.lens.map((len, i) => [i, 0, len]),
      encode: { x: [1, 2], y: 0 },
      renderItem: rectItem(BLACK),
    });
    const segs: number[][] = [];
    if (p.pairs) {
      p.pairs.forEach((arr, i) => {
        for (let j = 0; j + 1 < arr.length; j += 2) segs.push([i, arr[j], arr[j + 1]]);
      });
    }
    if (p.marks) {
      p.marks.forEach((arr, i) => arr.forEach((s) => segs.push([i, s, Math.min(s + (p.markLen || 1), p.lens[i])])));
    }
    series.push({
      type: 'custom', xAxisIndex: k, yAxisIndex: k, silent: true,
      data: segs, encode: { x: [1, 2], y: 0 },
      renderItem: rectItem(p.color),
    });
    graphic.push({
      type: 'text', x: p.left + p.width / 2, y: aTitleY[k < 4 ? 0 : 1],
      style: { text: p.title, fontSize: 8.8, fontStyle: 'italic', fontFamily: SERIF, fill: '#1a1a1a', align: 'center', verticalAlign: 'middle' },
    });
  });

  // ---------- (b) ----------
  bTitles.forEach((t, k) => {
    const gi = 8 + k;
    const row = k < 4 ? 0 : 1;
    const col = k % 4;
    grid.push({ left: bColLeft[col], top: bRowTop[row], width: bWidth, height: bHeight });
    xAxis.push({
      gridIndex: gi, type: 'value', min: -55, max: 55,
      axisLine: { show: row === 1, onZero: false, lineStyle: { color: '#444', width: 1 } },
      axisTick: { show: false, customValues: posTicks },
      axisLabel: { show: row === 1, customValues: posTicks, formatter: (v: number) => (v < 0 ? '\u2212' + Math.abs(v) : String(v)), fontSize: 9.5, fontFamily: SERIF, color: '#4d4d4d', margin: 4 },
      splitLine: { show: true, lineStyle: { color: GRID_C, width: 1 } },
    });
    yAxis.push({
      gridIndex: gi, type: 'value', min: 20.85, max: 44.45,
      axisLine: { show: col === 0, onZero: false, lineStyle: { color: '#444', width: 1 } },
      axisTick: { show: false, customValues: propTicks },
      axisLabel: { show: col === 0, customValues: propTicks, formatter: (v: number) => `${v}%`, fontSize: 9.5, fontFamily: SERIF, color: '#4d4d4d', margin: 3 },
      splitLine: { show: true, lineStyle: { color: GRID_C, width: 1 } },
    });
    series.push({
      name: 'left', type: 'line', xAxisIndex: gi, yAxisIndex: gi, showSymbol: false, symbol: 'none', silent: true,
      color: RED, lineStyle: { color: RED, width: 0.85 },
      data: positions.map((x, i) => [x, bLeftSeries[k][i]]),
    });
    series.push({
      name: 'right', type: 'line', xAxisIndex: gi, yAxisIndex: gi, showSymbol: false, symbol: 'none', silent: true,
      color: CYAN, lineStyle: { color: CYAN, width: 0.85 },
      data: positions.map((x, i) => [x, bRightSeries[k][i]]),
    });
    graphic.push({
      type: 'text', x: bColLeft[col] + bWidth / 2, y: bTitleY[row],
      style: { text: t, fontSize: 8.8, fontStyle: 'italic', fontFamily: SERIF, fill: '#1a1a1a', align: 'center', verticalAlign: 'middle' },
    });
  });

  graphic.push(
    { type: 'text', x: 1, y: 7, style: { text: '(a)', fontSize: 12, fontStyle: 'italic', fontFamily: SERIF, fill: '#111', align: 'left', verticalAlign: 'middle' } },
    { type: 'text', x: 8, y: 297, style: { text: '(b)', fontSize: 12, fontStyle: 'italic', fontFamily: SERIF, fill: '#111', align: 'left', verticalAlign: 'middle' } },
    { type: 'text', x: 24, y: 402, rotation: Math.PI / 2, style: { text: 'proportion', fontSize: 9, fontFamily: SERIF, fill: '#1a1a1a', align: 'center', verticalAlign: 'middle' } },
    { type: 'text', x: 338, y: 528, style: { text: 'position', fontSize: 9, fontFamily: SERIF, fill: '#1a1a1a', align: 'center', verticalAlign: 'middle' } },
    { type: 'text', x: 633, y: 394, style: { text: 'boundary', fontSize: 8.6, fontFamily: SERIF, fill: '#1a1a1a', align: 'left', verticalAlign: 'middle' } },
  );

  return {
    animation: false,
    backgroundColor: '#ffffff',
    grid,
    xAxis,
    yAxis,
    series,
    graphic,
    legend: {
      data: ['left', 'right'], orient: 'vertical', left: 634, top: 399, padding: 0,
      itemWidth: 6, itemHeight: 2, itemGap: 0, icon: 'rect', selectedMode: false,
      textStyle: { fontSize: 8.6, fontFamily: SERIF, color: '#1a1a1a', lineHeight: 9 },
    },
  };
}

export default function App() {
  const ref = useRef<HTMLDivElement>(null);
  useEffect(() => {
    if (!ref.current) return;
    const chart = echarts.init(ref.current, null, { renderer: 'svg' });
    chart.setOption(buildOption() as any);
    return () => chart.dispose();
  }, []);
  return <div ref={ref} style={{ position: 'absolute', left: 0, top: 0, width: 671, height: 533, background: '#fff' }} />;
}
